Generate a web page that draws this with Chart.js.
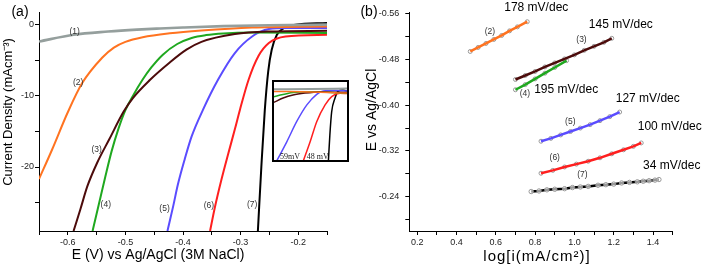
<!DOCTYPE html>
<html>
<head>
<meta charset="utf-8">
<title>LSV and Tafel plots</title>
<script src="https://cdn.jsdelivr.net/npm/chart.js@4.4.1/dist/chart.umd.min.js"></script>
<style>
  body { margin: 0; background: #fff; }
  #wrap { position: relative; width: 704px; height: 265px; overflow: hidden; }
  #chartA { position: absolute; left: 0; top: 0; }
  #chartB { position: absolute; left: 352px; top: 0; }
  #insetBox { position: absolute; left: 272px; top: 80px; width: 73px; height: 78px; border: 2px solid #000; background: #fff; }
  #insetBox canvas { display: block; }
</style>
</head>
<body>
<div id="wrap">
  <canvas id="chartA" width="352" height="265"></canvas>
  <canvas id="chartB" width="352" height="265"></canvas>
  <div id="insetBox"><canvas id="chartInset" width="73" height="78"></canvas></div>
</div>
<script>
// ---- panel (a): polarisation curves, E (V) vs current density (mA/cm2) ----
const curve1E = [-0.65, -0.59, -0.53, -0.48, -0.44, -0.40, -0.33, -0.25, -0.15];
const curve1J = [-2.35, -1.40, -0.95, -0.68, -0.52, -0.38, -0.18, -0.06, 0.02];
const curve2E = [-0.65, -0.627, -0.60, -0.575, -0.54, -0.52, -0.50, -0.47, -0.423, -0.368, -0.28, -0.15];
const curve2J = [-21.7, -17.5, -12.3, -8.2, -4.6, -3.2, -2.4, -1.75, -1.2, -0.8, -0.38, -0.23];
const curve3E = [-0.59, -0.578, -0.566, -0.549, -0.528, -0.503, -0.487, -0.458, -0.423, -0.394, -0.368, -0.31, -0.251, -0.15];
const curve3J = [-29, -25.9, -22.7, -19.4, -16.1, -12.2, -10.3, -7.8, -5.3, -3.5, -2.4, -1.3, -0.95, -0.85];
const curve4E = [-0.557, -0.546, -0.535, -0.524, -0.512, -0.50, -0.487, -0.47, -0.455, -0.435, -0.41, -0.385, -0.36, -0.33, -0.28, -0.15];
const curve4J = [-29, -25.2, -21.4, -17.8, -14.6, -12.0, -10.0, -7.7, -6.0, -4.2, -2.7, -1.85, -1.45, -1.22, -1.1, -1.15];
const curve5E = [-0.427, -0.417, -0.409, -0.397, -0.385, -0.365, -0.339, -0.31, -0.28, -0.251, -0.22, -0.15];
const curve5J = [-29, -25.5, -22.5, -18.9, -15.7, -11.9, -7.7, -3.97, -1.64, -0.6, -0.45, -0.45];
const curve6E = [-0.353, -0.345, -0.333, -0.321, -0.31, -0.301, -0.286, -0.269, -0.251, -0.222, -0.15];
const curve6J = [-29, -25.8, -21.7, -18, -14.7, -11.9, -7.7, -4.4, -2.57, -1.64, -1.4];
const curve7E = [-0.27, -0.264, -0.258, -0.252, -0.246, -0.237, -0.225, -0.205, -0.15];
const curve7J = [-29, -20, -12, -6.5, -3.5, -1.4, -0.47, 0, 0.25];

const aTicksX = [-0.65, -0.6, -0.55, -0.5, -0.45, -0.4, -0.35, -0.3, -0.25, -0.2, -0.15];
const aTickLabelsX = ['', '-0.6', '', '-0.5', '', '-0.4', '', '-0.3', '', '-0.2', ''];
const aTicksY = [-25, -20, -15, -10, -5, 0];
const aTickLabelsY = ['', '-20', '', '-10', '', '0'];

// ---- inset of panel (a) (no axes shown) ----
const inset1E = [-0.35, -0.25, -0.15];
const inset1J = [-0.01, 0.0, 0.02];
const inset2E = [-0.35, -0.25, -0.15];
const inset2J = [-0.1, -0.12, -0.17];
const inset3E = [-0.35, -0.325, -0.298, -0.265, -0.224, -0.15];
const inset3J = [-0.56, -0.38, -0.25, -0.17, -0.12, -0.14];
const inset4E = [-0.35, -0.298, -0.251, -0.15];
const inset4J = [-0.32, -0.14, -0.11, -0.18];
const inset5E = [-0.343, -0.315, -0.288, -0.26, -0.233, -0.215, -0.183, -0.15];
const inset5J = [-3.05, -2.23, -1.38, -0.67, -0.22, -0.08, -0.06, -0.08];
const inset6E = [-0.27, -0.251, -0.233, -0.21, -0.192, -0.169, -0.15];
const inset6J = [-3.05, -2.23, -1.38, -0.67, -0.32, -0.18, -0.19];
const inset7E = [-0.201, -0.197, -0.192, -0.183, -0.174, -0.161, -0.15];
const inset7J = [-3.05, -1.95, -0.96, -0.39, -0.08, -0.04, -0.08];

// ---- panel (b): Tafel plots, log i vs E ----
const tafel2X = [0.47, 0.51, 0.55, 0.59, 0.63, 0.67, 0.71, 0.76];
const tafel2E = [-0.494, -0.501, -0.508, -0.515, -0.522, -0.530, -0.537, -0.546];
const tafel3X = [0.70, 0.75, 0.80, 0.85, 0.90, 0.95, 1.00, 1.05, 1.10, 1.15, 1.19];
const tafel3E = [-0.445, -0.452, -0.459, -0.467, -0.474, -0.481, -0.488, -0.496, -0.503, -0.510, -0.517];
const tafel4X = [0.70, 0.75, 0.80, 0.85, 0.90, 0.96];
const tafel4E = [-0.427, -0.436, -0.446, -0.456, -0.466, -0.478];
const tafel5X = [0.83, 0.88, 0.93, 0.98, 1.03, 1.08, 1.13, 1.18, 1.23];
const tafel5E = [-0.337, -0.342, -0.348, -0.354, -0.360, -0.366, -0.373, -0.380, -0.388];
const tafel6X = [0.83, 0.89, 0.95, 1.01, 1.07, 1.13, 1.19, 1.25, 1.30, 1.34];
const tafel6E = [-0.281, -0.286, -0.292, -0.297, -0.302, -0.308, -0.315, -0.322, -0.328, -0.334];
const tafel7X = [0.78, 0.82, 0.86, 0.90, 0.95, 0.99, 1.03, 1.07, 1.12, 1.16, 1.20, 1.24, 1.28, 1.32, 1.35, 1.38, 1.41, 1.43];
const tafel7E = [-0.249, -0.250, -0.252, -0.253, -0.254, -0.256, -0.257, -0.258, -0.260, -0.261, -0.262, -0.264, -0.265, -0.266, -0.267, -0.268, -0.269, -0.270];
const slopes = ['178 mV/dec', '145 mV/dec', '195 mV/dec', '127 mV/dec', '100 mV/dec', '34 mV/dec'];

const bTicksX = [0.2, 0.3, 0.4, 0.5, 0.6, 0.7, 0.8, 0.9, 1.0, 1.1, 1.2, 1.3, 1.4, 1.5];
const bTickLabelsX = ['0.2', '', '0.4', '', '0.6', '', '0.8', '', '1.0', '', '1.2', '', '1.4', ''];
const bTicksY = [-0.56, -0.52, -0.48, -0.44, -0.40, -0.36, -0.32, -0.28, -0.24, -0.20];
const bTickLabelsY = ['-0.56', '', '-0.48', '', '-0.40', '', '-0.32', '', '-0.24', ''];

const colours = ['#959f9d', '#ff7320', '#4c0b0b', '#1fa81f', '#5a4cff', '#ff1f1f', '#000000'];
const FONT = '"Liberation Sans", Arial, sans-serif';

Chart.defaults.font.family = FONT;

function pts(xs, ys) {
  return xs.map((x, i) => ({ x: x, y: ys[i] }));
}

function axis(o) {
  return {
    type: 'linear', min: o.min, max: o.max, reverse: !!o.reverse,
    afterBuildTicks: s => { s.ticks = o.ticks.map(v => ({ value: v })); },
    afterFit: s => {
      if (o.width) s.width = o.width;
      if (o.height) s.height = o.height;
    },
    ticks: {
      autoSkip: false, maxRotation: 0, padding: o.pad, color: '#222',
      font: { size: 9 },
      callback: (v, i) => o.labels[i]
    },
    grid: { drawOnChartArea: false, color: '#000', tickColor: '#000', tickLength: 4 },
    border: { color: '#000', width: 1 }
  };
}

// texts drawn on top: titles in canvas pixels, labels in data units
function textLayer(items) {
  return {
    id: 'texts',
    afterDraw(chart) {
      const ctx = chart.ctx;
      items.forEach(it => {
        let x = it.x, y = it.y;
        if (it.data) {
          x = chart.scales.x.getPixelForValue(it.x);
          y = chart.scales.y.getPixelForValue(it.y);
        }
        ctx.save();
        ctx.font = it.font;
        ctx.fillStyle = it.color || '#000';
        ctx.textAlign = 'center';
        ctx.textBaseline = 'middle';
        if (it.spacing) ctx.letterSpacing = it.spacing;
        ctx.translate(x, y);
        if (it.rot) ctx.rotate(it.rot);
        ctx.fillText(it.text, 0, 0);
        ctx.restore();
      });
    }
  };
}

const common = {
  responsive: false,
  animation: false,
  events: [],
  plugins: { legend: { display: false }, tooltip: { enabled: false } }
};

// panel (a)
const curvesA = [
  [curve1E, curve1J, 2.6], [curve2E, curve2J, 2], [curve3E, curve3J, 2], [curve4E, curve4J, 2],
  [curve5E, curve5J, 2], [curve6E, curve6J, 2], [curve7E, curve7J, 2]
];
const labelsA = [
  { text: '(1)', x: -0.588, y: -1.0 }, { text: '(2)', x: -0.582, y: -8.2 },
  { text: '(3)', x: -0.55, y: -17.5 }, { text: '(4)', x: -0.534, y: -25.3 },
  { text: '(5)', x: -0.432, y: -25.9 }, { text: '(6)', x: -0.355, y: -25.4 },
  { text: '(7)', x: -0.28, y: -25.3 }
].map(l => Object.assign(l, { data: true, font: '8.5px ' + FONT, color: '#333' }));

new Chart(document.getElementById('chartA'), {
  type: 'line',
  data: {
    datasets: curvesA.map((c, i) => ({
      data: pts(c[0], c[1]),
      borderColor: colours[i],
      borderWidth: c[2],
      pointRadius: 0,
      cubicInterpolationMode: 'monotone'
    }))
  },
  options: Object.assign({}, common, {
    layout: { padding: { top: 12, right: 25, left: 0, bottom: 0 } },
    scales: {
      x: axis({ min: -0.65, max: -0.15, ticks: aTicksX, labels: aTickLabelsX, pad: 2, height: 34 }),
      y: axis({ min: -29, max: 1.8, ticks: aTicksY, labels: aTickLabelsY, pad: 1, width: 39 })
    }
  }),
  plugins: [textLayer(labelsA.concat([
    { text: '(a)', x: 20, y: 12, font: '14px ' + FONT },
    { text: 'Current Density (mAcm⁻³)', x: 8.5, y: 112, rot: -Math.PI / 2, font: '13px ' + FONT },
    { text: 'E (V) vs Ag/AgCl (3M NaCl)', x: 158, y: 255, font: '14px ' + FONT }
  ]))]
});

// inset
const curvesInset = [
  [inset1E, inset1J], [inset2E, inset2J], [inset3E, inset3J], [inset4E, inset4J],
  [inset5E, inset5J], [inset6E, inset6J], [inset7E, inset7J]
];
new Chart(document.getElementById('chartInset'), {
  type: 'line',
  data: {
    datasets: curvesInset.map((c, i) => ({
      data: pts(c[0], c[1]),
      borderColor: colours[i],
      borderWidth: i === 0 ? 2 : 1.5,
      pointRadius: 0,
      cubicInterpolationMode: 'monotone'
    }))
  },
  options: Object.assign({}, common, {
    layout: { padding: 0 },
    scales: {
      x: { type: 'linear', min: -0.35, max: -0.15, display: false },
      y: { type: 'linear', min: -3.0, max: 0.3, display: false }
    }
  }),
  plugins: [textLayer([
    { text: '59mV', x: -0.306, y: -2.88, data: true, font: '8px "Liberation Serif", serif', color: '#222' },
    { text: '48 mV', x: -0.23, y: -2.88, data: true, font: '8px "Liberation Serif", serif', color: '#222' }
  ])]
});

// panel (b); black markers sit on top of their line, the others underneath
const tafelSets = [
  [tafel2X, tafel2E, colours[1], false], [tafel3X, tafel3E, colours[2], false],
  [tafel4X, tafel4E, colours[3], false], [tafel5X, tafel5E, colours[4], false],
  [tafel6X, tafel6E, colours[5], false], [tafel7X, tafel7E, colours[6], true]
];
const datasetsB = [];
tafelSets.forEach(s => {
  datasetsB.push({ data: pts(s[0], s[1]), borderColor: s[2], borderWidth: 2.5, pointRadius: 0, order: 0 });
  datasetsB.push({
    data: pts(s[0], s[1]), showLine: false, order: s[3] ? -1 : 1,
    pointRadius: s[3] ? 2.2 : 2, pointBorderWidth: 1, pointBorderColor: '#999',
    pointBackgroundColor: s[3] ? 'rgba(255,255,255,0.6)' : '#fff'
  });
});

const labelsB = [
  { text: '(2)', x: 0.57, y: -0.528 }, { text: '(3)', x: 1.036, y: -0.5145 },
  { text: '(4)', x: 0.748, y: -0.421 }, { text: '(5)', x: 0.979, y: -0.372 },
  { text: '(6)', x: 0.90, y: -0.308 }, { text: '(7)', x: 1.041, y: -0.278 }
].map(l => Object.assign(l, { data: true, font: '8.5px ' + FONT, color: '#333' }));
const slopePos = [[0.806, -0.571], [1.236, -0.541], [0.958, -0.428], [1.373, -0.411], [1.485, -0.362], [1.495, -0.295]];
const slopeLabels = slopes.map((t, i) => ({
  text: t, x: slopePos[i][0], y: slopePos[i][1], data: true, font: '12px ' + FONT
}));

new Chart(document.getElementById('chartB'), {
  type: 'line',
  data: { datasets: datasetsB },
  options: Object.assign({}, common, {
    layout: { padding: { top: 12, right: 31.3, left: 0, bottom: 0 } },
    scales: {
      x: axis({ min: 0.16, max: 1.5, ticks: bTicksX, labels: bTickLabelsX, pad: 2, height: 34 }),
      y: axis({ min: -0.563, max: -0.18, reverse: true, ticks: bTicksY, labels: bTickLabelsY, pad: 6, width: 57.3 })
    }
  }),
  plugins: [textLayer(labelsB.concat(slopeLabels, [
    { text: '(b)', x: 17, y: 12, font: '14px ' + FONT },
    { text: 'E vs Ag/AgCl', x: 20, y: 110, rot: -Math.PI / 2, font: '14px ' + FONT },
    { text: 'log[i(mA/cm²)]', x: 185, y: 256.5, font: '15px ' + FONT, spacing: '1px' }
  ]))]
});
</script>
</body>
</html>
